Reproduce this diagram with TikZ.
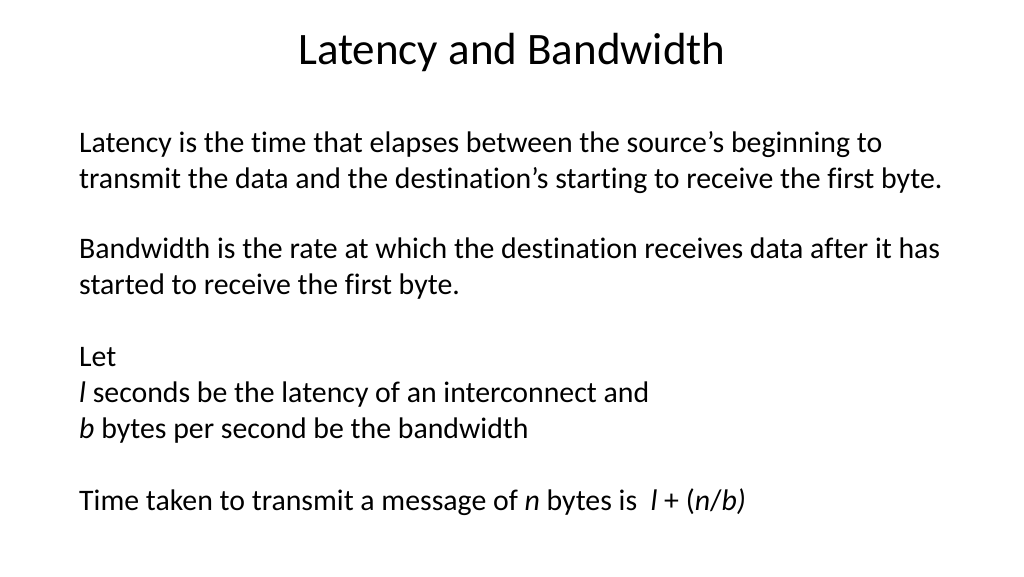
\documentclass[tikz,border=0pt]{standalone}
\usepackage{fontspec}
\setmainfont[Ligatures={NoCommon}]{Carlito}
\tikzset{
  bodyline/.style={anchor=base west, inner sep=0pt, font=\fontsize{29.8}{34}\selectfont},
  titletext/.style={anchor=base, inner sep=0pt, font=\fontsize{45}{50}\selectfont}
}
\begin{document}
\begin{tikzpicture}[x=1pt,y=-1pt]
  \useasboundingbox (0,0) rectangle (1024,576);
  \node[titletext] (title) at (512,64) {Latency and Bandwidth};
  \node[bodyline] (lat1) at (79,152) {Latency is the time that elapses between the source’s beginning to};
  \node[bodyline] (lat2) at (79,188) {transmit the data and the destination’s starting to receive the first byte.};
  \node[bodyline] (bw1) at (79,258) {Bandwidth is the rate at which the destination receives data after it has};
  \node[bodyline] (bw2) at (79,294) {started to receive the first byte.};
  \node[bodyline] (let) at (79,366) {Let};
  \node[bodyline] (ldef) at (79,402) {\textit{l} seconds be the latency of an interconnect and};
  \node[bodyline] (bdef) at (79,438) {\textit{b} bytes per second be the bandwidth};
  \node[bodyline] (time) at (79,510) {Time taken to transmit a message of \textit{n} bytes is\ \ \textit{l} + (\textit{n}/\textit{b)}};
\end{tikzpicture}
\end{document}
